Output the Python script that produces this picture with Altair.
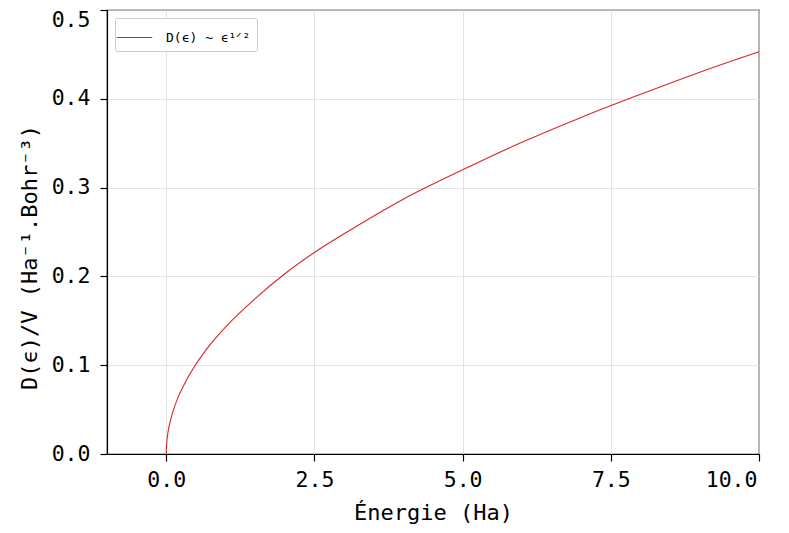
import altair as alt
import pandas as pd

energy = [0.0, 0.001, 0.003, 0.01, 0.02, 0.05, 0.1, 0.2, 0.3, 0.5, 0.75, 1.0, 1.5, 2.0, 2.5,
          3.0, 4.0, 5.0, 6.0, 7.0, 8.0, 9.0, 10.0]
dos = [0.0, 0.0045, 0.0078, 0.0143, 0.0203, 0.032, 0.045, 0.064, 0.078, 0.101, 0.124, 0.143,
       0.175, 0.203, 0.227, 0.248, 0.287, 0.320, 0.351, 0.379, 0.405, 0.430, 0.453]
series = "D(ϵ) ~ ϵ¹ᐟ²"
x_ticks = [0, 2.5, 5, 7.5, 10]
y_ticks = [0, 0.1, 0.2, 0.3, 0.4, 0.5]

df = pd.DataFrame({"E": energy, "D": dos, "s": [series] * len(energy)})

font = "DejaVu Sans Mono"

chart = alt.Chart(df).mark_line(strokeWidth=1.1, interpolate="monotone").encode(
    x=alt.X("E:Q", scale=alt.Scale(domain=[-1, 10], nice=False, zero=False),
            axis=alt.Axis(title="Énergie (Ha)", values=x_ticks, format=".1f",
                          labelOffset={"condition": {"test": "datum.value >= 10", "value": -2},
                                       "value": 0})),
    y=alt.Y("D:Q", scale=alt.Scale(domain=[0, 0.5], nice=False),
            axis=alt.Axis(title="D(ϵ)/V  (Ha⁻¹.Bohr⁻³)", values=y_ticks, format=".1f",
                          titleY=247,
                          labelOffset={"condition": {"test": "datum.value >= 0.5", "value": 10},
                                       "value": 0})),
    color=alt.Color("s:N", scale=alt.Scale(range=["#d62728"]),
                    legend=alt.Legend(title=None, orient="none", legendX=8, legendY=8,
                                      symbolType="M-1.4,0H1.4", symbolSize=640,
                                      symbolStrokeWidth=1.2,
                                      labelFont=font, labelFontSize=13, labelColor="#000",
                                      padding=6, fillColor="white", strokeColor="#cccccc",
                                      cornerRadius=2, labelOffset=18)),
).properties(
    width=652, height=444,
    autosize=alt.AutoSizeParams(type="none"),
    padding={"left": 99, "top": 2, "right": 22, "bottom": 70},
).configure_view(
    stroke="black", strokeWidth=1.2
).configure_axis(
    labelFont=font, titleFont=font, labelFontSize=21.5, titleFontSize=22,
    labelColor="black", titleColor="black", titleFontWeight="normal",
    domainColor="black", tickColor="black", tickSize=7, domainWidth=1.2, tickWidth=1.2,
    gridColor="#dddddd", gridWidth=0.8
).configure_axisX(labelPadding=8, titlePadding=12).configure_axisY(labelPadding=10, titlePadding=10)

chart.save("out.html", embed_options={"renderer": "svg", "actions": False})
